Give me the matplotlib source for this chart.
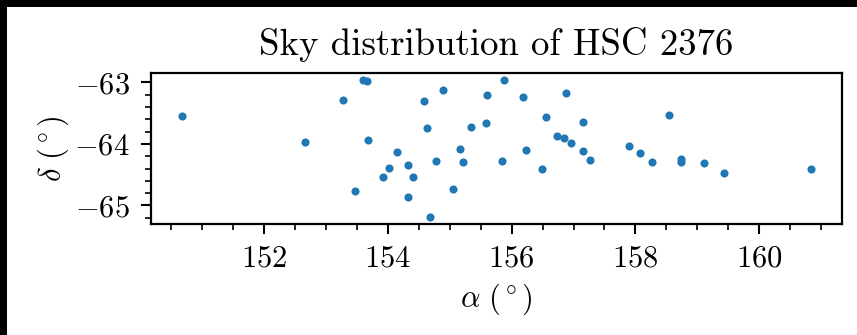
import matplotlib
matplotlib.use("Agg")
import matplotlib.pyplot as plt
from matplotlib.patches import Rectangle

plt.rcParams["font.family"] = "serif"
plt.rcParams["font.serif"] = ["cmr10", "DejaVu Serif"]
plt.rcParams["mathtext.fontset"] = "cm"
plt.rcParams["axes.formatter.use_mathtext"] = True
plt.rcParams["axes.unicode_minus"] = True

# Right ascension / declination of cluster members (deg)
ra = [150.68, 152.66, 153.28, 153.60, 153.66, 153.68, 153.47, 153.92, 154.02,
      154.14, 154.32, 154.33, 154.40, 154.59, 154.64, 154.68, 154.77, 154.89,
      155.05, 155.17, 155.22, 155.34, 155.58, 155.60, 155.85, 155.87, 156.18,
      156.23, 156.49, 156.56, 156.73, 156.84, 156.87, 156.96, 157.15, 157.16,
      157.26, 157.90, 158.07, 158.27, 158.54, 158.74, 158.73, 159.11, 159.43,
      160.83]
dec = [-63.54, -63.97, -63.28, -62.97, -62.98, -63.93, -64.76, -64.54, -64.39,
       -64.13, -64.35, -64.87, -64.54, -63.31, -63.74, -65.19, -64.27, -63.12,
       -64.73, -64.08, -64.29, -63.73, -63.66, -63.20, -64.27, -62.96, -63.24,
       -64.10, -64.41, -63.57, -63.87, -63.90, -63.17, -63.99, -64.11, -63.64,
       -64.26, -64.03, -64.15, -64.29, -63.53, -64.25, -64.29, -64.31, -64.48,
       -64.41]
cluster_name = "HSC 2376"

fig = plt.figure(figsize=(8.57, 3.35), dpi=100, facecolor="black")
fig.patches.append(Rectangle((7 / 857, 0), 1, 1 - 7 / 335,
                             transform=fig.transFigure, facecolor="white",
                             edgecolor="none", zorder=-10))

ax = fig.add_axes([151 / 857, 1 - 224 / 335, 691 / 857, 151 / 335])
ax.scatter(ra, dec, s=34, color="#1f77b4", linewidths=0)

ax.set_title(f"Sky distribution of {cluster_name}", fontsize=26.5, pad=13)
ax.set_xlabel(r"$\alpha\ (^\circ)$", fontsize=22, labelpad=6)
ax.set_ylabel(r"$\delta\ (^\circ)$", fontsize=22, labelpad=2)

ax.xaxis.set_major_locator(plt.MultipleLocator(2))
ax.xaxis.set_minor_locator(plt.MultipleLocator(0.5))
ax.yaxis.set_major_locator(plt.MultipleLocator(1))
ax.yaxis.set_minor_locator(plt.MultipleLocator(0.2))

ax.tick_params(which="major", length=7.5, width=1.5, labelsize=22, pad=8)
ax.tick_params(which="minor", length=4.5, width=1.2)
for sp in ax.spines.values():
    sp.set_linewidth(1.6)

fig.savefig("out.png", dpi=100, facecolor=fig.get_facecolor())
